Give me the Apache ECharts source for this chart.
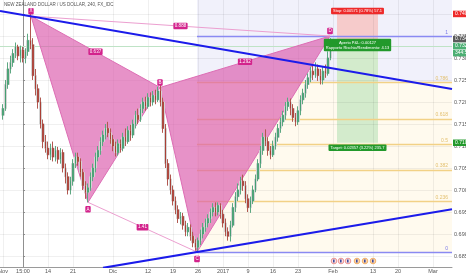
<!DOCTYPE html>
<html><head><meta charset="utf-8">
<script src="https://cdn.jsdelivr.net/npm/echarts@6/dist/echarts.min.js"></script>
<style>html,body{margin:0;padding:0;background:#fff;overflow:hidden}#c{width:466px;height:275px}</style>
</head><body><div id="c"></div>
<script>
// ---------- DATA ----------
const titleText = 'NEW ZEALAND DOLLAR / US DOLLAR, 240, FX_IDC';
// x axis: trading-day index (0 = Mon 7 Nov 2016, weekends removed)
const xTickDays = [-4, 0, 5, 10, 18, 25, 30, 35, 40, 45, 50, 55, 62, 70, 75, 82];
const xTickLabels = ['Nov', '15:00', '14', '21', 'Dic', '12', '19', '26', '2017', '9', '16', '23', 'Feb', '13', '20', 'Mar'];
const yTicks = [0.685, 0.690, 0.695, 0.700, 0.705, 0.710, 0.715, 0.720, 0.725, 0.730, 0.735, 0.740];

const CANDLE_START_DAY = -4;   // first bar
const CANDLE_STEP = 0.5;       // 12h bars
// [open, close, low, high]
const candles = [
[0.7170,0.7185,0.7160,0.7195],[0.7185,0.7240,0.7180,0.7250],[0.7240,0.7275,0.7230,0.7290],[0.7275,0.7290,0.7265,0.7305],
[0.7290,0.7310,0.7280,0.7320],[0.7310,0.7325,0.7300,0.7335],[0.7325,0.7305,0.7295,0.7330],[0.7305,0.7318,0.7290,0.7328],
[0.7318,0.7300,0.7290,0.7325],[0.7300,0.7315,0.7288,0.7322],[0.7315,0.7340,0.7305,0.7355],[0.7340,0.7330,0.7320,0.7400],
[0.7330,0.7260,0.7250,0.7345],[0.7260,0.7230,0.7215,0.7275],[0.7230,0.7200,0.7185,0.7240],[0.7200,0.7150,0.7140,0.7210],
[0.7150,0.7110,0.7095,0.7160],[0.7110,0.7095,0.7085,0.7125],[0.7095,0.7080,0.7070,0.7110],[0.7080,0.7095,0.7068,0.7105],
[0.7095,0.7075,0.7065,0.7110],[0.7075,0.7090,0.7065,0.7100],[0.7090,0.7070,0.7060,0.7098],[0.7070,0.7085,0.7060,0.7095],
[0.7085,0.7050,0.7040,0.7092],[0.7050,0.7030,0.7015,0.7060],[0.7030,0.7000,0.6990,0.7040],[0.7000,0.7020,0.6990,0.7030],
[0.7020,0.7060,0.7010,0.7070],[0.7060,0.7075,0.7050,0.7085],[0.7075,0.7065,0.7055,0.7085],[0.7065,0.7040,0.7030,0.7072],
[0.7040,0.7010,0.7000,0.7048],[0.7010,0.6995,0.6980,0.7020],[0.6995,0.7005,0.6972,0.7015],[0.7005,0.7030,0.6998,0.7040],
[0.7030,0.7050,0.7020,0.7060],[0.7050,0.7075,0.7040,0.7085],[0.7075,0.7090,0.7065,0.7100],[0.7090,0.7110,0.7080,0.7120],
[0.7110,0.7125,0.7100,0.7135],[0.7125,0.7140,0.7115,0.7150],[0.7140,0.7130,0.7120,0.7155],[0.7130,0.7115,0.7105,0.7140],
[0.7115,0.7100,0.7088,0.7125],[0.7100,0.7085,0.7076,0.7110],[0.7085,0.7105,0.7078,0.7115],[0.7105,0.7095,0.7085,0.7115],
[0.7095,0.7120,0.7088,0.7130],[0.7120,0.7110,0.7100,0.7140],[0.7110,0.7135,0.7105,0.7145],[0.7135,0.7125,0.7112,0.7148],
[0.7125,0.7150,0.7118,0.7160],[0.7150,0.7170,0.7140,0.7180],[0.7170,0.7160,0.7150,0.7185],[0.7160,0.7185,0.7155,0.7195],
[0.7185,0.7200,0.7175,0.7210],[0.7200,0.7190,0.7180,0.7212],[0.7190,0.7210,0.7185,0.7220],[0.7210,0.7200,0.7190,0.7222],
[0.7200,0.7215,0.7192,0.7225],[0.7215,0.7205,0.7195,0.7228],[0.7205,0.7225,0.7200,0.7235],[0.7225,0.7200,0.7190,0.7240],
[0.7200,0.7140,0.7130,0.7210],[0.7140,0.7060,0.7050,0.7150],[0.7060,0.7025,0.7010,0.7070],[0.7025,0.7000,0.6990,0.7035],
[0.7000,0.6975,0.6965,0.7010],[0.6975,0.6955,0.6945,0.6985],[0.6955,0.6935,0.6925,0.6965],[0.6935,0.6940,0.6922,0.6950],
[0.6940,0.6920,0.6910,0.6948],[0.6920,0.6905,0.6895,0.6930],[0.6905,0.6915,0.6895,0.6925],[0.6915,0.6895,0.6885,0.6922],
[0.6895,0.6880,0.6870,0.6905],[0.6880,0.6870,0.6862,0.6888],[0.6870,0.6885,0.6859,0.6892],[0.6885,0.6900,0.6875,0.6910],
[0.6900,0.6915,0.6890,0.6925],[0.6915,0.6925,0.6905,0.6935],[0.6925,0.6935,0.6915,0.6945],[0.6935,0.6950,0.6925,0.6958],
[0.6950,0.6960,0.6940,0.6970],[0.6960,0.6950,0.6940,0.6972],[0.6950,0.6965,0.6942,0.6972],[0.6965,0.6945,0.6935,0.6970],
[0.6945,0.6925,0.6915,0.6955],[0.6925,0.6905,0.6895,0.6935],[0.6905,0.6895,0.6885,0.6915],[0.6895,0.6920,0.6883,0.6930],
[0.6920,0.6960,0.6915,0.6970],[0.6960,0.6985,0.6950,0.6995],[0.6985,0.7000,0.6975,0.7015],[0.7000,0.7020,0.6990,0.7030],
[0.7020,0.7010,0.6998,0.7035],[0.7010,0.6980,0.6970,0.7020],[0.6980,0.6960,0.6950,0.6990],[0.6960,0.6975,0.6948,0.6985],
[0.6975,0.7000,0.6968,0.7010],[0.7000,0.7025,0.6995,0.7035],[0.7025,0.7060,0.7020,0.7070],[0.7060,0.7090,0.7050,0.7100],
[0.7090,0.7120,0.7080,0.7130],[0.7120,0.7110,0.7100,0.7138],[0.7110,0.7090,0.7078,0.7120],[0.7090,0.7080,0.7070,0.7100],
[0.7080,0.7100,0.7075,0.7112],[0.7100,0.7120,0.7092,0.7130],[0.7120,0.7140,0.7110,0.7150],[0.7140,0.7155,0.7130,0.7165],
[0.7155,0.7170,0.7145,0.7180],[0.7170,0.7190,0.7160,0.7200],[0.7190,0.7200,0.7180,0.7210],[0.7200,0.7185,0.7170,0.7208],
[0.7185,0.7165,0.7155,0.7195],[0.7165,0.7155,0.7145,0.7175],[0.7155,0.7180,0.7148,0.7190],[0.7180,0.7205,0.7170,0.7215],
[0.7205,0.7220,0.7195,0.7230],[0.7220,0.7240,0.7210,0.7250],[0.7240,0.7255,0.7230,0.7265],[0.7255,0.7270,0.7245,0.7280],
[0.7270,0.7262,0.7250,0.7285],[0.7262,0.7275,0.7255,0.7290],[0.7275,0.7260,0.7248,0.7285],[0.7260,0.7250,0.7240,0.7275],
[0.7250,0.7270,0.7240,0.7280],[0.7270,0.7265,0.7255,0.7285],[0.7265,0.7300,0.7260,0.7315],[0.7300,0.7327,0.7295,0.7345]
];
const lastPrice = 0.7327;

// harmonic pattern X A B C D
const patternNames  = ['X', 'A', 'B', 'C', 'D'];
const patternDays   = [1.6, 13.0, 27.4, 34.8, 61.4];
const patternPrices = [0.7395, 0.6972, 0.7233, 0.6859, 0.7350];
const patternLabelAbove = [true, false, true, false, true];
const triangles = [[0, 1, 2], [2, 3, 4]];
const thinLegs = [[0, 4], [1, 3]];
const ratioFrom = [0, 0, 2, 1];
const ratioTo   = [2, 4, 4, 3];
const ratioText = ['0.637', '0.888', '1.292', '1.41'];

// fibonacci retracement C -> D
const fibLevels = [0, 0.236, 0.382, 0.5, 0.618, 0.786, 1];
const fibLabels = ['0', '0.236', '0.382', '0.5', '0.618', '0.786', '1'];

// trend lines [day, price]
const trendUpper = [[-4.6, 0.74068], [85.8, 0.72295]];
const trendLower = [[16.0, 0.68231], [85.8, 0.69564]];

// short position tool
const posStartDay = 62.8, posEndDay = 71.0;
const posEntry = 0.7343, posStop = 0.74001, posTarget = 0.71073;
const stopText = 'Stop: 0.00571 (0.78%) 57.1';
const pnlText = 'Aperto P&L: 0.00127\nRapporto Rischio/Rendimento: 4.13';
const targetText = 'Target: 0.02357 (3.22%) 235.7';
const countdownText = '344:52';

// event markers
const eventDays = [62.2, 63.6, 65.0, 66.8, 68.4, 70.0];
const eventKind = [0, 0, 0, 1, 1, 1];

// ---------- CHART ----------
const X_MIN = -4.6, X_MAX = 85.8, Y_MIN = 0.6825, Y_MAX = 0.74318;
const FONT = 'Liberation Sans, Arial, sans-serif';
const chart = echarts.init(document.getElementById('c'));
const fibC = patternPrices[3], fibD = patternPrices[4], fibStart = patternDays[3];
const fibPrice = l => fibC + l * (fibD - fibC);
const candleData = candles.map((r, i) => [CANDLE_START_DAY + CANDLE_STEP * i, r[0], r[1], r[2], r[3]]);
const px = v => Math.round(v) + 0.5;

const option = {
  animation: false,
  backgroundColor: '#ffffff',
  title: { text: titleText, left: 3, top: 1, padding: 1, textStyle: { fontSize: 4.5, color: '#555', fontWeight: 'normal', fontFamily: FONT } },
  grid: { left: 0, right: 14, top: 0, bottom: 8, containLabel: false, outerBoundsMode: 'none' },
  xAxis: {
    type: 'value', min: X_MIN, max: X_MAX,
    axisLine: { show: true, lineStyle: { color: '#9a9a9a', width: 1 } },
    axisTick: { show: false },
    splitLine: { show: false },
    axisLabel: {
      customValues: xTickDays, fontSize: 5.5, color: '#555', margin: 1, fontFamily: FONT,
      formatter: v => { const k = xTickDays.indexOf(v); return k >= 0 ? xTickLabels[k] : ''; }
    }
  },
  yAxis: {
    type: 'value', position: 'right', min: Y_MIN, max: Y_MAX, scale: true,
    axisLine: { show: true, lineStyle: { color: '#9a9a9a', width: 1 } },
    axisTick: { show: true, customValues: yTicks, length: 2, lineStyle: { color: '#999' } },
    splitLine: { show: false },
    axisLabel: { customValues: yTicks, fontSize: 5.5, color: '#555', margin: 2, fontFamily: FONT, formatter: v => v.toFixed(5) }
  },
  series: [
    // background zones (fib + position)
    { type: 'custom', z: 1, silent: true, data: [[0, 0.7]], renderItem: (p, api) => {
        const xs = api.coord([fibStart, Y_MAX])[0], xe = api.coord([X_MAX, Y_MAX])[0];
        const yTop = api.coord([0, Y_MAX])[1], y786 = api.coord([0, fibPrice(0.786)])[1], y0 = api.coord([0, fibPrice(0)])[1];
        const ps = api.coord([posStartDay, posStop]), pe = api.coord([posEndDay, posEntry]), pt = api.coord([posEndDay, posTarget]);
        return { type: 'group', children: [
          { type: 'rect', shape: { x: xs, y: yTop, width: xe - xs, height: y786 - yTop }, style: { fill: '#f1f1fb' } },
          { type: 'rect', shape: { x: xs, y: y786, width: xe - xs, height: y0 - y786 }, style: { fill: '#fffaee' } },
          { type: 'rect', shape: { x: ps[0], y: ps[1], width: pe[0] - ps[0], height: pe[1] - ps[1] }, style: { fill: '#f6cbcb' } },
          { type: 'rect', shape: { x: ps[0], y: pe[1], width: pe[0] - ps[0], height: pt[1] - pe[1] }, style: { fill: '#d3ebcc' } }
        ]};
    }},
    // grid lines
    { type: 'custom', z: 2, silent: true, data: [[0, 0.7]], renderItem: (p, api) => {
        const ch = [];
        xTickDays.forEach(d => { const a = api.coord([d, Y_MIN]), b = api.coord([d, Y_MAX]);
          ch.push({ type: 'line', shape: { x1: px(a[0]), y1: a[1], x2: px(a[0]), y2: b[1] }, style: { stroke: 'rgba(0,0,0,0.06)', lineWidth: 1 } }); });
        yTicks.forEach(v => { const a = api.coord([X_MIN, v]), b = api.coord([X_MAX, v]);
          ch.push({ type: 'line', shape: { x1: a[0], y1: px(a[1]), x2: b[0], y2: px(a[1]) }, style: { stroke: 'rgba(0,0,0,0.06)', lineWidth: 1 } }); });
        return { type: 'group', children: ch };
    }},
    // fib level lines + labels
    { type: 'custom', z: 3, silent: true, data: [[0, 0.7]], renderItem: (p, api) => {
        const ch = [];
        fibLevels.forEach((l, i) => {
          const a = api.coord([fibStart, fibPrice(l)]), b = api.coord([X_MAX, fibPrice(l)]);
          const blue = (l === 0 || l === 1);
          const col = blue ? '#8a8af2' : '#f2d186';
          ch.push({ type: 'line', shape: { x1: a[0], y1: px(a[1]), x2: b[0], y2: px(a[1]) }, style: { stroke: col, lineWidth: 1.3 } });
          ch.push({ type: 'text', x: b[0] - 4, y: a[1] - 1, style: { text: fibLabels[i], fill: blue ? '#7a7ae8' : '#e3c070', fontSize: 5, fontFamily: FONT, align: 'right', verticalAlign: 'bottom' } });
        });
        return { type: 'group', children: ch };
    }},
    // last price line
    { type: 'custom', z: 3, silent: true, data: [[0, 0.7]], renderItem: (p, api) => {
        const a = api.coord([X_MIN, lastPrice]), b = api.coord([X_MAX, lastPrice]);
        return { type: 'line', shape: { x1: a[0], y1: px(a[1]), x2: b[0], y2: px(a[1]) }, style: { stroke: '#bfe3c6', lineWidth: 1 } };
    }},
    // pattern triangles
    { type: 'custom', z: 4, silent: true, data: triangles.map((t, i) => [i, 0.7]), renderItem: (p, api) => {
        const pts = triangles[p.dataIndex].map(k => api.coord([patternDays[k], patternPrices[k]]));
        return { type: 'polygon', shape: { points: pts }, style: { fill: 'rgba(218,90,172,0.66)', stroke: '#dd6db4', lineWidth: 1 } };
    }},
    // thin legs
    { type: 'custom', z: 4, silent: true, data: thinLegs.map((t, i) => [i, 0.7]), renderItem: (p, api) => {
        const [i0, i1] = thinLegs[p.dataIndex];
        const a = api.coord([patternDays[i0], patternPrices[i0]]), b = api.coord([patternDays[i1], patternPrices[i1]]);
        return { type: 'line', shape: { x1: a[0], y1: a[1], x2: b[0], y2: b[1] }, style: { stroke: '#ec9fd0', lineWidth: 1 } };
    }},
    // candle shadow
    { type: 'candlestick', z: 5, silent: true, barWidth: 3, data: candleData, encode: { x: 0, y: [1, 2, 3, 4] },
      itemStyle: { color: '#d9d9d9', color0: '#d9d9d9', borderColor: '#d4d4d4', borderColor0: '#d4d4d4', borderWidth: 1 } },
    // candles
    { type: 'candlestick', z: 6, silent: true, barWidth: 1.4, data: candleData, encode: { x: 0, y: [1, 2, 3, 4] },
      itemStyle: { color: '#3f9d6d', color0: '#a8382f', borderColor: '#3f9d6d', borderColor0: '#a8382f', borderWidth: 0.8 } },
    // trend lines
    { type: 'line', z: 7, silent: true, data: trendUpper, symbol: 'none', lineStyle: { color: '#1b1bea', width: 2 } },
    { type: 'line', z: 7, silent: true, data: trendLower, symbol: 'none', lineStyle: { color: '#1b1bea', width: 2 } },
    // ratio labels
    { type: 'custom', z: 8, silent: true, data: ratioText.map((t, i) => [i, 0.7]), renderItem: (p, api) => {
        const i = p.dataIndex, a = api.coord([patternDays[ratioFrom[i]], patternPrices[ratioFrom[i]]]), b = api.coord([patternDays[ratioTo[i]], patternPrices[ratioTo[i]]]);
        return { type: 'text', x: (a[0] + b[0]) / 2, y: (a[1] + b[1]) / 2, style: { text: ratioText[i], fill: '#fff', fontSize: 4.5, fontFamily: FONT, align: 'center', verticalAlign: 'middle', backgroundColor: '#d3238c', padding: [1, 1.5, 0.5, 1.5], borderRadius: 1 } };
    }},
    // point labels
    { type: 'custom', z: 8, silent: true, data: patternNames.map((t, i) => [i, 0.7]), renderItem: (p, api) => {
        const i = p.dataIndex, c = api.coord([patternDays[i], patternPrices[i]]);
        return { type: 'text', x: c[0], y: c[1] + (patternLabelAbove[i] ? -5 : 7), style: { text: patternNames[i], fill: '#fff', fontSize: 4.5, fontFamily: FONT, align: 'center', verticalAlign: 'middle', backgroundColor: '#d3238c', padding: [1, 1.2, 0.5, 1.2], borderRadius: 1 } };
    }},
    // position labels
    { type: 'custom', z: 9, silent: true, data: [[0, 0.7]], renderItem: (p, api) => {
        const mid = (posStartDay + posEndDay) / 2;
        const s = api.coord([mid, posStop]), e = api.coord([mid, posEntry]), t = api.coord([mid, posTarget]);
        const st = { fill: '#fff', fontSize: 4, fontFamily: FONT, align: 'center', verticalAlign: 'middle', padding: [1.5, 2, 1, 2], borderRadius: 1 };
        return { type: 'group', children: [
          { type: 'text', x: s[0], y: s[1] - 3, style: Object.assign({}, st, { text: stopText, backgroundColor: '#ee2a2a' }) },
          { type: 'text', x: e[0], y: e[1] + 6, style: Object.assign({}, st, { text: pnlText, backgroundColor: '#22992b', lineHeight: 5 }) },
          { type: 'text', x: t[0], y: t[1] + 5, style: Object.assign({}, st, { text: targetText, backgroundColor: '#22992b' }) }
        ]};
    }},
    // events
    { type: 'custom', z: 9, silent: true, data: eventDays.map((d, i) => [d, Y_MIN]), renderItem: (p, api) => {
        const i = p.dataIndex, c = api.coord([eventDays[i], Y_MIN]);
        const k = eventKind[i];
        return { type: 'group', children: [
          { type: 'circle', shape: { cx: c[0], cy: c[1] - 6, r: 2.8 }, style: { fill: k ? '#fbd6ad' : '#fbe0e0', stroke: k ? '#f0a24f' : '#e57d7d', lineWidth: 0.8 } },
          { type: 'rect', shape: { x: c[0] - 1, y: c[1] - 7.5, width: 1.6, height: 3 }, style: { fill: '#3b4aa0' } }
        ]};
    }},
    // right axis tags
    { type: 'custom', z: 10, silent: true, data: [[0, 0.7]], renderItem: (p, api) => {
        const xr = api.coord([X_MAX, Y_MAX])[0] + 1;
        const st = { fill: '#fff', fontSize: 5, fontFamily: FONT, align: 'left', verticalAlign: 'middle', padding: [1, 2, 0.5, 2] };
        const tag = (price, text, bg, dy) => ({ type: 'text', x: xr, y: api.coord([X_MAX, price])[1] + (dy || 0), style: Object.assign({}, st, { text, backgroundColor: bg }) });
        return { type: 'group', children: [
          tag(posStop, posStop.toFixed(5), '#ee2a2a'),
          tag(posEntry, posEntry.toFixed(5), '#5b5b5b'),
          tag(lastPrice, lastPrice.toFixed(5), '#4caf73'),
          tag(lastPrice, countdownText, '#4caf73', 7),
          tag(posTarget, posTarget.toFixed(5), '#22992b')
        ]};
    }}
  ]
};
chart.setOption(option);
</script>
</body></html>
